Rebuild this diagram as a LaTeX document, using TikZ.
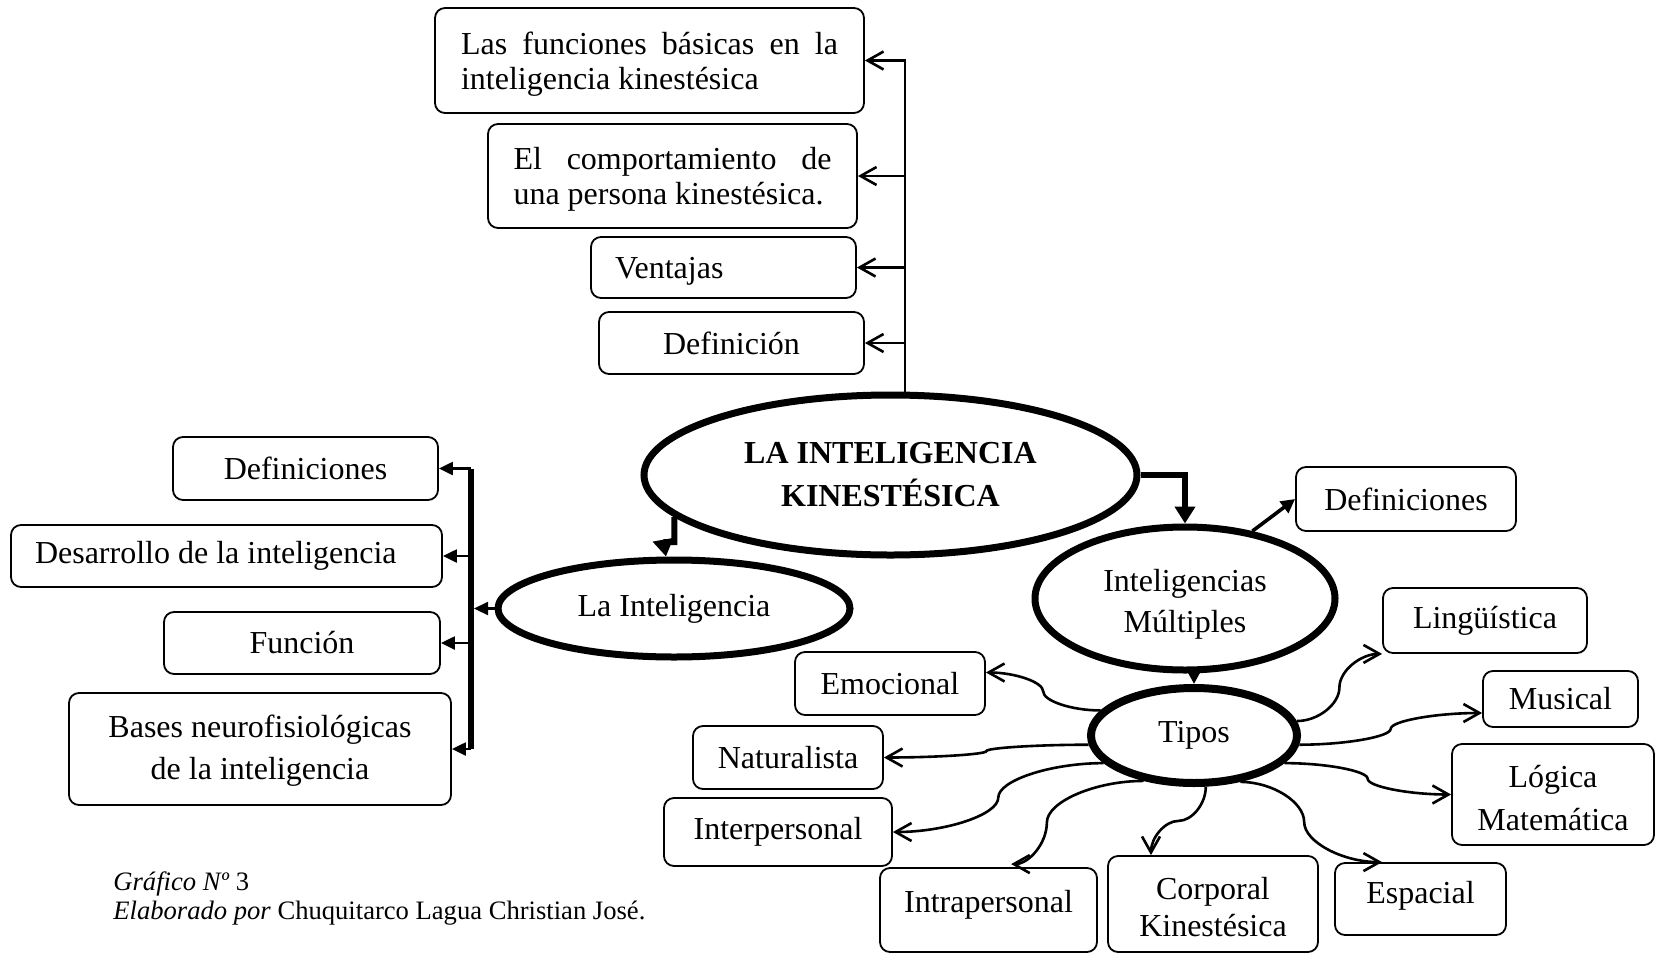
\documentclass[tikz,border=0pt]{standalone}
\usepackage{fontspec}
\setmainfont{Liberation Serif}
\usetikzlibrary{shapes.geometric,arrows.meta,calc}
\newcommand\mfs{\fontsize{16}{17.5}\selectfont}
\newcommand\upstrut[1]{\rule{0pt}{#1}}
\begin{document}
\begin{tikzpicture}[x=0.5pt,y=-0.5pt,
  box/.style={draw, rounded corners=5pt, line width=0.9pt, inner sep=0pt, align=center, font=\mfs},
  ell/.style={draw, ellipse, line width=3.5pt, inner sep=0pt, align=center, font=\mfs},
  openarr/.style={line width=1.3pt, -{Straight Barb[length=8pt,width=9pt]}},
  filarr/.style={line width=1.1pt, -{Triangle[length=7pt,width=6.5pt]}},
  medarr/.style={line width=1.8pt, -{Triangle[length=7pt,width=7pt]}},
  thickarr/.style={line width=3pt, -{Triangle[length=8.5pt,width=10pt]}},
  curv/.style={to path={let \p1=(\tikztostart), \p2=(\tikztotarget),
      \p3=({(1-#1)*\x1+#1*\x2},{0.5*\y1+0.5*\y2}) in
      .. controls ({0.5*\x1+0.5*\x3},\y1) and (\x3,{0.75*\y1+0.25*\y2}) .. (\p3)
      .. controls (\x3,{0.25*\y1+0.75*\y2}) and ({0.5*\x3+0.5*\x2},\y2) .. (\tikztotarget)}},
  curv/.default=0.5,
  curvv/.style={to path={let \p1=(\tikztostart), \p2=(\tikztotarget),
      \p3=({0.5*\x1+0.5*\x2},{(1-#1)*\y1+#1*\y2}) in
      .. controls (\x1,{0.5*\y1+0.5*\y3}) and ({0.75*\x1+0.25*\x2},\y3) .. (\p3)
      .. controls ({0.25*\x1+0.75*\x2},\y3) and (\x2,{0.5*\y3+0.5*\y2}) .. (\tikztotarget)}},
  curvv/.default=0.5
]
\useasboundingbox (0,0) rectangle (1656,954);

% central ellipses
\node[ell, minimum width=246.5pt, minimum height=80pt, font=\fontsize{16}{21.5}\selectfont\bfseries] (big) at (890.5,475) {LA INTELIGENCIA\\KINESTÉSICA};
\node[ell, minimum width=176pt, minimum height=48.5pt] (lint) at (674,608.5) {La Inteligencia};
\node[ell, minimum width=150pt, minimum height=71.5pt, font=\fontsize{16}{20.5}\selectfont] (im) at (1185,598.5) {\upstrut{17pt}Inteligencias\\Múltiples};
\node[ell, line width=4pt, minimum width=103pt, minimum height=47.5pt] (tipos) at (1194,735.5) {Tipos};

% top cluster
\node[box, minimum width=214.5pt, minimum height=52.5pt, text width=188.5pt, align=justify] (tf1) at (649.5,60.5) {\upstrut{14.5pt}Las funciones básicas en la\linebreak inteligencia kinestésica};
\node[box, minimum width=184.5pt, minimum height=52pt, text width=159pt, align=justify] (tf2) at (672.5,176) {\upstrut{14.5pt}El comportamiento de\linebreak una persona kinestésica.};
\node[box, minimum width=132.5pt, minimum height=30.5pt, text width=108.5pt, align=flush left, text depth=0pt] (tf3) at (723.5,267.5) {Ventajas};
\node[box, minimum width=132.5pt, minimum height=31pt] (tf4) at (731.5,343) {Definición};

% left cluster
\node[box, minimum width=132.5pt, minimum height=31.5pt] (ld1) at (305.5,468.5) {Definiciones};
\node[box, minimum width=215.5pt, minimum height=31pt, text width=191.5pt, align=flush left] (ld2) at (226.5,556) {Desarrollo de la inteligencia};
\node[box, minimum width=138pt, minimum height=31pt] (ld3) at (302,643) {Función};
\node[box, minimum width=191pt, minimum height=56pt, font=\fontsize{16}{21}\selectfont] (ld4) at (260,749) {\upstrut{13pt}Bases neurofisiológicas\\de la inteligencia};

% right cluster
\node[box, minimum width=110pt, minimum height=32pt] (rdef) at (1406,499) {Definiciones};
\node[box, minimum width=102pt, minimum height=32.5pt] (ling) at (1485,620.5) {Lingüística};
\node[box, minimum width=77.5pt, minimum height=28pt] (mus) at (1560.5,699) {Musical};
\node[box, minimum width=101pt, minimum height=50.5pt, font=\fontsize{16}{21.5}\selectfont] (log) at (1553,794.5) {\upstrut{15pt}Lógica\\Matemática};
\node[box, minimum width=85.5pt, minimum height=36pt, text depth=6.5pt] (esp) at (1420.5,899) {Espacial};
\node[box, minimum width=105pt, minimum height=48pt, font=\fontsize{16}{18.5}\selectfont] (corp) at (1213,904) {\upstrut{14.5pt}Corporal\\Kinestésica};
\node[box, minimum width=108.5pt, minimum height=42pt, text depth=8.5pt] (intra) at (988.5,910) {Intrapersonal};
\node[box, minimum width=114pt, minimum height=34pt] (inter) at (778,832) {Interpersonal};
\node[box, minimum width=95pt, minimum height=31.5pt] (nat) at (788,757.5) {Naturalista};
\node[box, minimum width=95pt, minimum height=31.5pt] (emo) at (890,683.5) {Emocional};

% top bus
\coordinate (tbus) at (905,0);
\draw[openarr] (tbus |- big.north) -- (tbus |- tf1.east) -- (tf1.east);
\draw[openarr] (tbus |- tf2.east) -- (tf2.east);
\draw[openarr] (tbus |- tf3.east) -- (tf3.east);
\draw[openarr] (tbus |- tf4.east) -- (tf4.east);

% left bus
\coordinate (lbus) at (471,0);
\draw[line width=3pt] (lbus |- ld1.east) -- (lbus |- ld4.east);
\draw[filarr] (lbus |- ld1.east) -- (ld1.east);
\draw[filarr] (lbus |- ld2.east) -- (ld2.east);
\draw[filarr] (lbus |- ld3.east) -- (ld3.east);
\draw[filarr] (lbus |- ld4.east) -- (ld4.east);
\draw[filarr] (lint.west) -- ($(lbus |- lint.west)+(3,0)$);

% thick connectors
\draw[thickarr] (big.191) -- ++(0,25) -- ++(-11,0) -- ($(lint.north)+(-8,0)$);
\draw[thickarr] (big.east) -| (im.north);
\draw[line width=2pt, -{Triangle[length=7pt,width=7pt]}] (im.south -| tipos.north) -- (tipos.north);
\draw[medarr] (im.45) -- (rdef.west);

% curved connectors from Tipos
\draw[openarr] (tipos.165) to[curv] ($(emo.east)+(0,-11)$);
\draw[openarr] (tipos.185) to[curv] (nat.east);
\draw[openarr] (tipos.197) to[curv] (inter.east);
\draw[openarr] (tipos.222) to[curv=0.73] ($(intra.north west)+(132,-3)$);
\draw[openarr] (tipos.283) to[curvv] ($(corp.north)+(-62,0)$);
\draw[openarr] (tipos.315) to[curv=0.45] ($(esp.north west)+(48,0)$);
\draw[openarr] (tipos.343) to[curv] (log.west);
\draw[openarr] (tipos.355) to[curv] ($(mus.west)+(0,14)$);
\draw[openarr] (tipos.8) to[curv] (ling.south west);

% caption
\node[anchor=base west, inner sep=0pt, font=\fontsize{13.3}{15}\selectfont] (cap1) at (113,890) {\textit{Gráfico Nº} 3};
\node[anchor=base west, inner sep=0pt, font=\fontsize{13.3}{15}\selectfont] (cap2) at (113,919) {\textit{Elaborado por} Chuquitarco Lagua Christian José.};
\end{tikzpicture}
\end{document}
